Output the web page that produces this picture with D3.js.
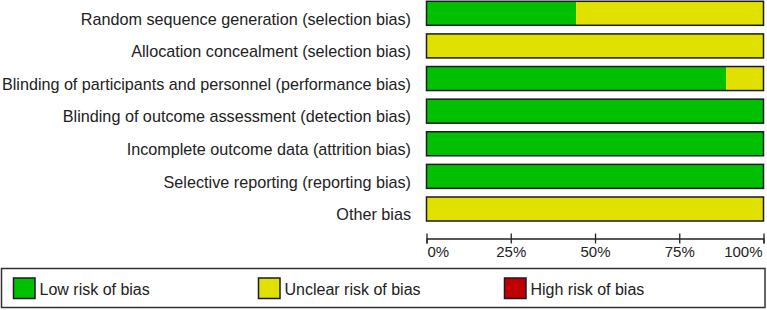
<!DOCTYPE html>
<html>
<head>
<meta charset="utf-8">
<script src="https://cdn.jsdelivr.net/npm/d3@7"></script>
<style>
  html, body { margin: 0; padding: 0; background: #fff; }
  svg { display: block; font-family: "Liberation Sans", Arial, sans-serif; }
</style>
</head>
<body>
<svg id="chart" width="767" height="310"></svg>
<script>
const categories = [
  "Random sequence generation (selection bias)",
  "Allocation concealment (selection bias)",
  "Blinding of participants and personnel (performance bias)",
  "Blinding of outcome assessment (detection bias)",
  "Incomplete outcome data (attrition bias)",
  "Selective reporting (reporting bias)",
  "Other bias"
];
const lowRisk     = [44.4, 0, 88.9, 100, 100, 100, 0];
const unclearRisk = [55.6, 100, 11.1, 0, 0, 0, 100];
const highRisk    = [0, 0, 0, 0, 0, 0, 0];
const tickValues  = [0, 25, 50, 75, 100];
const tickLabels  = ["0%", "25%", "50%", "75%", "100%"];
const legendLabels = ["Low risk of bias", "Unclear risk of bias", "High risk of bias"];
const colors = ["#00C000", "#E1E100", "#C00000"];

const svg = d3.select("#chart");
const x = d3.scaleLinear().domain([0, 100]).range([426.5, 763.5]);
const y = d3.scalePoint().domain(categories).range([13.3, 209]);
const barH = 24;

const series = [lowRisk, unclearRisk, highRisk];
const stacked = categories.map((c, i) => {
  let acc = 0;
  return series.map((s, k) => {
    const seg = { cat: c, k, x0: acc, x1: acc + s[i] };
    acc += s[i];
    return seg;
  });
});

const rows = svg.append("g").selectAll("g").data(stacked).join("g");
rows.selectAll("rect.seg")
  .data(d => d.filter(s => s.x1 > s.x0))
  .join("rect")
  .attr("class", "seg")
  .attr("x", d => x(d.x0))
  .attr("width", d => x(d.x1) - x(d.x0))
  .attr("y", d => y(d.cat) - barH / 2)
  .attr("height", barH)
  .attr("fill", d => colors[d.k]);
rows.append("rect")
  .attr("x", x(0))
  .attr("width", x(100) - x(0))
  .attr("y", d => y(d[0].cat) - barH / 2)
  .attr("height", barH)
  .attr("fill", "none")
  .attr("stroke", "#1a1a2a")
  .attr("stroke-width", 1.5);

const labelRight = 411;
svg.append("g").selectAll("text")
  .data(categories)
  .join("text")
  .attr("x", labelRight)
  .attr("y", d => y(d) + 11.3)
  .attr("text-anchor", "end")
  .attr("font-size", "16.2px")
  .attr("fill", "#222")
  .text(d => d)
  .each(function () {
    const maxW = labelRight - 2;
    if (this.getComputedTextLength() > maxW) {
      d3.select(this).attr("textLength", maxW).attr("lengthAdjust", "spacingAndGlyphs");
    }
  });

// axis
const axisY = 238.5;
const axis = d3.axisBottom(x).tickValues(tickValues)
  .tickFormat((d, i) => tickLabels[i]).tickSizeOuter(0).tickSize(5);
const ag = svg.append("g").attr("transform", `translate(0,${axisY})`).call(axis);
ag.select(".domain").attr("stroke", "#222").attr("stroke-width", 1.3);
ag.selectAll(".tick line").attr("y1", -5).attr("y2", 5).attr("stroke", "#222").attr("stroke-width", 1.3);
ag.selectAll(".tick text")
  .attr("y", 18.5).attr("dy", null)
  .attr("font-size", "15px")
  .attr("font-family", "'Liberation Sans', Arial, sans-serif")
  .attr("fill", "#222")
  .attr("text-anchor", (d, i) => i === 0 ? "start" : (i === tickValues.length - 1 ? "end" : "middle"))
  .attr("x", (d, i) => i === 0 ? 0.5 : (i === tickValues.length - 1 ? -1.5 : 0));

// legend
svg.append("rect")
  .attr("x", 1.5).attr("y", 268.5).attr("width", 763.5).attr("height", 39)
  .attr("fill", "#fff").attr("stroke", "#333").attr("stroke-width", 1.5);
const legendX = [13.5, 258.5, 504.5];
const lg = svg.append("g").selectAll("g").data(legendLabels).join("g")
  .attr("transform", (d, i) => `translate(${legendX[i]},0)`);
lg.append("rect")
  .attr("x", 0).attr("y", 278).attr("width", 21.5).attr("height", 20.5)
  .attr("fill", (d, i) => colors[i]).attr("stroke", "#1a1a2a").attr("stroke-width", 1.5);
lg.append("text")
  .attr("x", 26).attr("y", 295)
  .attr("font-size", "16px").attr("fill", "#222")
  .text(d => d);
</script>
</body>
</html>
